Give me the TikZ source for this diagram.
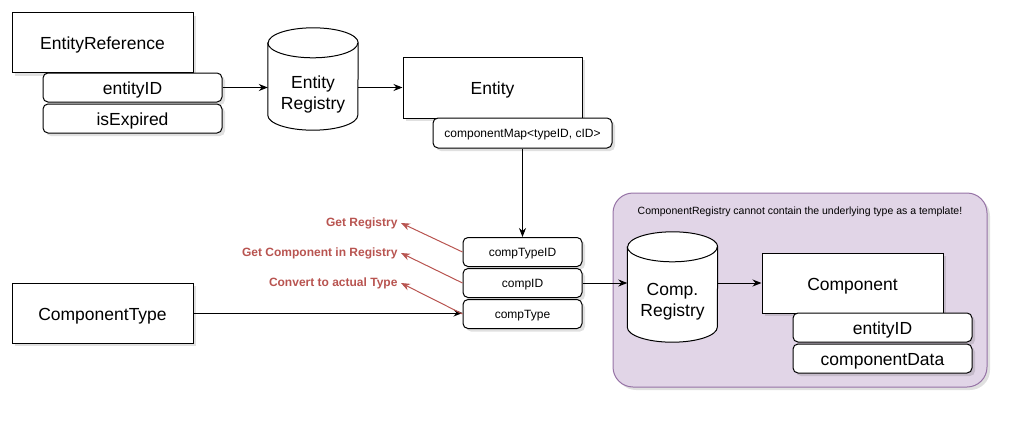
\documentclass[tikz,border=0pt]{standalone}
\usepackage{fontspec}
\setmainfont{Liberation Sans}
\usepackage{tikz}
\usetikzlibrary{positioning,arrows.meta,backgrounds}
\definecolor{noteRed}{HTML}{B85450}
\definecolor{groupFill}{HTML}{E1D5E7}
\definecolor{groupLine}{HTML}{9673A6}

% drum (cylinder) drawn round a text node
\newcommand{\drawdrum}[1]{
  \fill[black, opacity=0.12, shift={(3pt,-3pt)}]
    ([yshift=15pt]#1.north west) -- ([yshift=15pt]#1.south west)
    arc[start angle=180, end angle=360, x radius=45pt, y radius=15pt]
    -- ([yshift=15pt]#1.north east)
    arc[start angle=0, end angle=180, x radius=45pt, y radius=15pt] -- cycle;
  \draw[fill=white, line width=1pt]
    ([yshift=15pt]#1.north west) -- ([yshift=15pt]#1.south west)
    arc[start angle=180, end angle=360, x radius=45pt, y radius=15pt]
    -- ([yshift=15pt]#1.north east)
    arc[start angle=0, end angle=180, x radius=45pt, y radius=15pt] -- cycle;
  \draw[line width=1pt] ([yshift=15pt]#1.north west)
    arc[start angle=180, end angle=360, x radius=45pt, y radius=15pt];
}

\begin{document}
\begin{tikzpicture}[
    x=1pt, y=-1pt,
    >={Stealth[length=9pt, width=7pt]},
    font=\fontsize{17.5}{21}\selectfont,
    boxshadow/.style={preaction={draw=none, fill=black, opacity=0.12,
      transform canvas={shift={(3pt,-3pt)}}}},
    classbox/.style={shape=rectangle, draw, fill=white, line width=1pt, boxshadow,
      minimum width=181pt, minimum height=60pt, text height=15pt, text depth=1pt},
    fieldbox/.style={shape=rectangle, draw, fill=white, line width=1pt, boxshadow,
      rounded corners=5pt, minimum width=179pt, minimum height=29pt, inner sep=0pt,
      text height=15pt, text depth=1pt},
    smallfield/.style={fieldbox, font=\fontsize{12}{14}\selectfont,
      text height=10pt, text depth=1pt},
    drumtext/.style={align=center, minimum width=90pt, inner sep=0pt},
    groupbox/.style={draw=groupLine, fill=groupFill, line width=1pt, boxshadow,
      rounded corners=20pt, minimum width=374pt, minimum height=194pt},
    note/.style={text=noteRed, font=\bfseries\fontsize{12}{14}\selectfont, anchor=east},
    link/.style={->, line width=1pt},
    notelink/.style={->, noteRed, line width=1pt}
  ]
    \useasboundingbox (0,0) rectangle (1023,423);

    % entity side
    \node[classbox] (eref) at (102.5,42.5) {EntityReference};
    \node[fieldbox] (erefid) at (132.5,87.5) {entityID};
    \node[fieldbox, below=1pt of erefid] (erefexp) {isExpired};
    \node[drumtext, minimum height=72pt] (ereg) at (313,94) {Entity\\Registry};
    \node[classbox, minimum width=179pt, minimum height=61pt] (ent) at (492.5,87.5) {Entity};
    \node[smallfield, minimum height=30pt] (cmap) at (522.5,133) {componentMap<typeID, cID>};

    % component handle
    \node[smallfield, minimum width=119pt] (ctid) at (522.5,252) {compTypeID};
    \node[smallfield, minimum width=119pt, below=1pt of ctid] (cid) {compID};
    \node[smallfield, minimum width=119pt, below=1pt of cid] (ctype) {compType};
    \node[classbox] (ctbox) at (102.5,313) {ComponentType};

    % notes
    \node[note] (getreg) at (401,223) {Get Registry};
    \node[note] (getcomp) at (401,253) {Get Component in Registry};
    \node[note] (convert) at (401,283) {Convert to actual Type};

    % component registry group
    \begin{scope}[on background layer]
      \node[groupbox] (grp) at (800,290) {};
    \end{scope}
    \node[font=\fontsize{10.5}{12}\selectfont] (grptitle) at (800,212)
      {ComponentRegistry cannot contain the underlying type as a template!};
    \node[drumtext, minimum height=80pt] (creg) at (672.5,302) {Comp.\\Registry};
    \node[classbox] (comp) at (852.5,283) {Component};
    \node[fieldbox] (compid) at (882.5,327.5) {entityID};
    \node[fieldbox, below=1pt of compid] (cdata) {componentData};

    \begin{scope}[on background layer]
      \drawdrum{ereg}
      \drawdrum{creg}
    \end{scope}

    % connectors
    \draw[link] (erefid.east) -- (erefid.east -| ereg.west);
    \draw[link] (ereg.east |- ent.west) -- (ent.west);
    \draw[link] (cmap.south) -- (ctid.north);
    \draw[link] (ctbox.east) -- (ctbox.east -| ctype.west);
    \draw[link] (cid.east) -- (cid.east -| creg.west);
    \draw[link] (creg.east |- comp.west) -- (comp.west);
    \draw[notelink] (ctid.west) -- (getreg.east);
    \draw[notelink] (cid.west) -- (getcomp.east);
    \draw[notelink] (ctype.west) -- (convert.east);
  \end{tikzpicture}
\end{document}
